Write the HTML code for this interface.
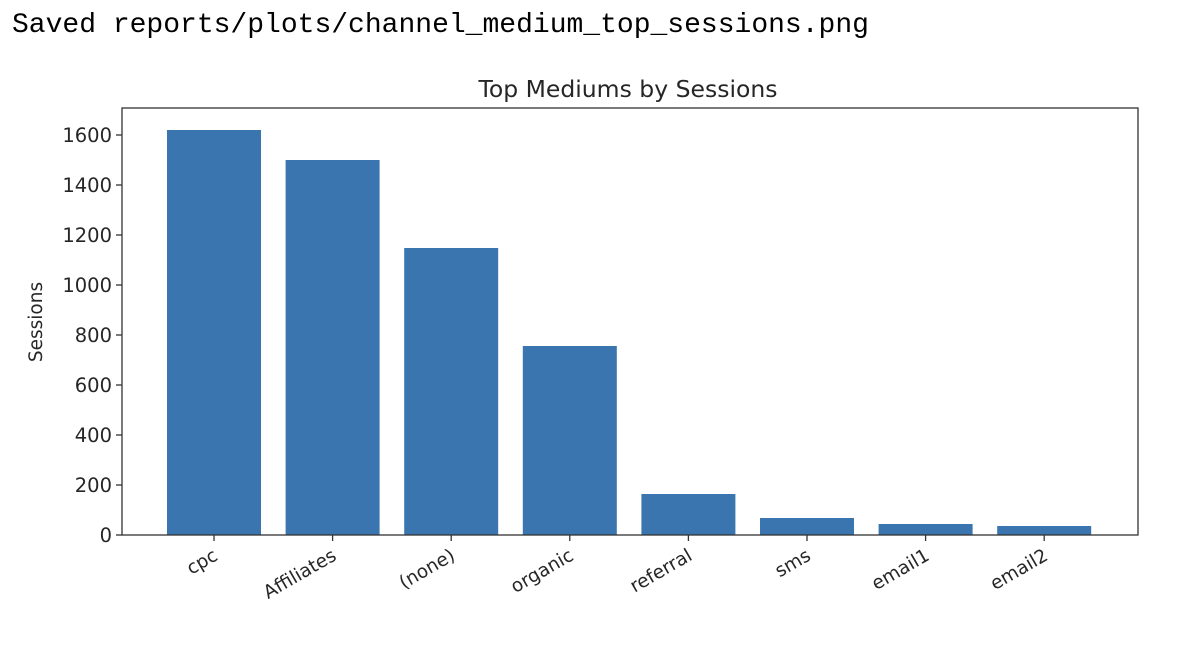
<!DOCTYPE html>
<html><head><meta charset="utf-8"><style>
body{margin:0;background:#fff;width:1198px;height:640px;overflow:hidden}
text{font-family:"DejaVu Sans","Liberation Sans",sans-serif;fill:#262626}
</style></head><body>
<svg width="1198" height="640">
<text x="12" y="32" style="font-family:'Liberation Mono',monospace;font-size:28px;fill:#000">Saved reports/plots/channel_medium_top_sessions.png</text>
<text x="628" y="97" text-anchor="middle" font-size="23.5">Top Mediums by Sessions</text>
<text transform="translate(42,322) rotate(-90)" text-anchor="middle" font-size="18.5">Sessions</text>
<g id="bars"></g><g id="axes"></g>
</svg>
<script>
const categories=["cpc","Affiliates","(none)","organic","referral","sms","email1","email2"];
const sessions=[1620,1500,1148,756,164,68,44,36];
const yTicks=[0,200,400,600,800,1000,1200,1400,1600];
const L=122,R=1138,T=108,B=535,x0=214,step=118.6,bw=94;
const y=v=>B-v*0.25, x=i=>x0+i*step;
const ns="http://www.w3.org/2000/svg";
const bars=document.getElementById('bars'),axes=document.getElementById('axes');
function mk(t,a,p){const e=document.createElementNS(ns,t);for(const k in a)e.setAttribute(k,a[k]);p.appendChild(e);return e;}
categories.forEach((c,i)=>{
 const r=mk('rect',{x:x(i)-bw/2,y:y(sessions[i]),width:bw,height:B-y(sessions[i]),fill:'#3b75af'},bars);
 
 
 mk('line',{x1:x(i),x2:x(i),y1:B,y2:B+6,stroke:'#333','stroke-width':1.3},axes);
 const t=mk('text',{transform:`translate(${x(i)+5},${B+24}) rotate(-30)`,'text-anchor':'end','font-size':18.5},axes);
 t.textContent=c;
 
 
});
yTicks.forEach(v=>{
 mk('line',{x1:L-6,x2:L,y1:y(v),y2:y(v),stroke:'#333','stroke-width':1.3},axes);
 const t=mk('text',{x:L-10,y:y(v)+7,'text-anchor':'end','font-size':19.5},axes);
 t.textContent=v;
 
 
});
const f=mk('rect',{x:L,y:T,width:R-L,height:B-T,fill:'none',stroke:'#333','stroke-width':1.3},axes);


</script>
</body></html>
